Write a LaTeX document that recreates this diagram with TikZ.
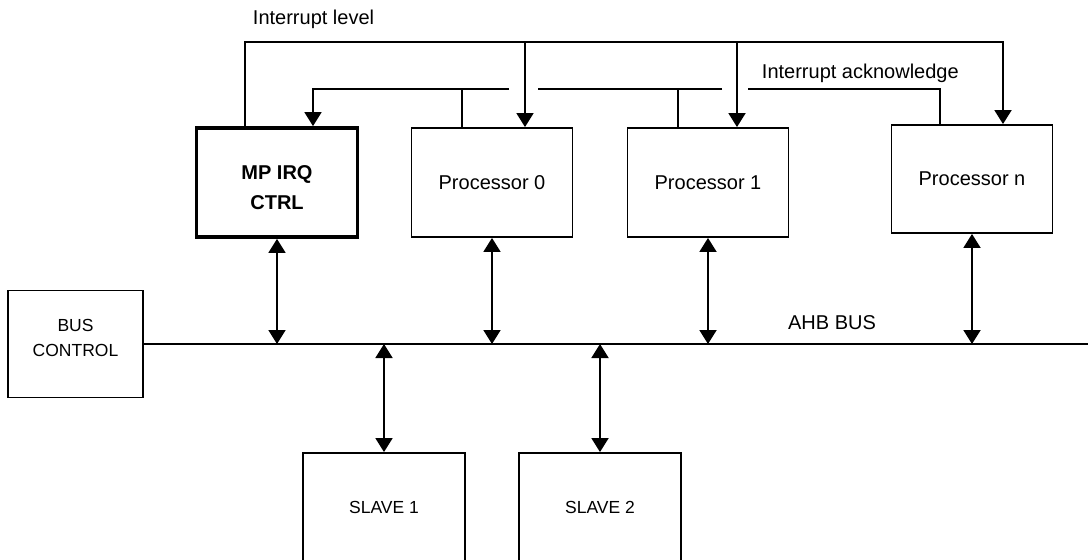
\documentclass[tikz,border=0pt]{standalone}
\usepackage{fontspec}
\setmainfont{Liberation Sans}
\usetikzlibrary{arrows.meta}
\begin{document}
\begin{tikzpicture}[x=1pt,y=-1pt,
  line width=1.9pt,
  box/.style={draw,line width=1.9pt,minimum width=161pt,minimum height=109pt,inner sep=0pt,align=center,font=\fontsize{20}{30}\selectfont},
  thickbox/.style={box,line width=3.8pt},
  smallbox/.style={box,font=\fontsize{17.5}{25}\selectfont},
  lbl/.style={font=\fontsize{20}{24}\selectfont,inner sep=0pt},
  tip/.style={-{Triangle[width=17pt,length=14pt]}},
  dtip/.style={{Triangle[width=17pt,length=14pt]}-{Triangle[width=17pt,length=14pt]}}
]
\clip (0,0) rectangle (1088,560);
% boxes
\node[thickbox] (mp) at (277,182.5) {\mbox{}\\[-6pt]\bfseries MP IRQ\\\bfseries CTRL};
\node[box] (p0) at (492,182.5) {Processor 0};
\node[box] (p1) at (708,182.5) {Processor 1};
\node[box,minimum height=108pt] (pn) at (972,179) {Processor n};
\node[smallbox,minimum width=135pt,minimum height=107pt] (bc) at (75.5,344) {BUS\\CONTROL\\[-12pt]\mbox{}};
\node[smallbox,minimum width=162pt,minimum height=109pt] (s1) at (384,507.5) {SLAVE 1};
\node[smallbox,minimum width=162pt,minimum height=109pt] (s2) at (600,507.5) {SLAVE 2};
% labels
\node[lbl,anchor=west] (lil) at (252,19) {Interrupt level};
\node[lbl,anchor=west] (lak) at (761,73) {Interrupt acknowledge};
\node[lbl] (lbus) at (832,323) {AHB BUS};
% interrupt level
\coordinate (il0) at (245,42);
\coordinate (il1) at (525,42);
\coordinate (il2) at (737,42);
\coordinate (il3) at (1003,42);
\draw[tip] (mp.north -| il0) -- (il0) -- (il3) -- (pn.north -| il3);
\draw[tip] (il1) -- (p0.north -| il1);
\draw[tip] (il2) -- (p1.north -| il2);
% interrupt acknowledge
\coordinate (ak0) at (313,89);
\coordinate (ak1) at (462,89);
\coordinate (ak2) at (678,89);
\coordinate (ak3) at (940,89);
\coordinate (g1l) at (509,89);
\coordinate (g1r) at (538,89);
\coordinate (g2l) at (722,89);
\coordinate (g2r) at (748,89);
\draw (pn.north -| ak3) -- (ak3) -- (g2r);
\draw (g2l) -- (g1r);
\draw[tip] (g1l) -- (ak0) -- (mp.north -| ak0);
\draw (p0.north -| ak1) -- (ak1);
\draw (p1.north -| ak2) -- (ak2);
% bus
\coordinate (busend) at (1088,344);
\draw (bc.east) -- (busend);
\draw[dtip] (mp.south) -- (mp.south |- busend);
\draw[dtip] (p0.south) -- (p0.south |- busend);
\draw[dtip] (p1.south) -- (p1.south |- busend);
\draw[dtip] (pn.south) -- (pn.south |- busend);
\draw[dtip] (s1.north |- busend) -- (s1.north);
\draw[dtip] (s2.north |- busend) -- (s2.north);
\end{tikzpicture}
\end{document}
